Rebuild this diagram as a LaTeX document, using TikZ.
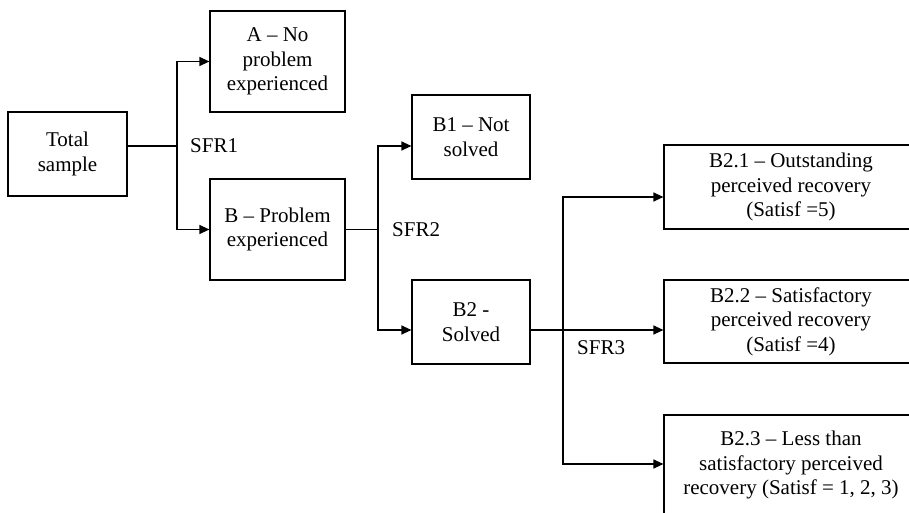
\documentclass[tikz,border=0pt]{standalone}
\usepackage{fontspec}
\setmainfont{Liberation Serif}
\usetikzlibrary{arrows.meta}
\tikzset{
	box/.style={draw, line width=1.2pt, align=center, inner sep=0pt, font=\fontsize{21}{24.5}\selectfont},
	arr/.style={line width=1.2pt, -{Triangle[length=10pt,width=9pt]}},
	lbl/.style={anchor=west, inner sep=0pt, font=\fontsize{21}{24.5}\selectfont}
}

\begin{document}
\begin{tikzpicture}[x=1pt, y=-1pt]
		%%%%% START %%%%%
		\useasboundingbox (0,0) rectangle (909,513);
		\clip (0,0) rectangle (909,513);
		
		\node[box, minimum width=119pt, minimum height=84pt] (tot) at (67.5,154) {Total\\sample};
		
		\node[box, minimum width=135pt, minimum height=101pt] (A) at (277.5,61.5) {A -- No\\problem\\experienced};
		\node[box, minimum width=135pt, minimum height=101pt] (B) at (277.5,229.5) {B -- Problem\\experienced};
		
		\node[box, minimum width=118pt, minimum height=84pt] (B1) at (471,137) {B1 -- Not\\solved};
		\node[box, minimum width=118pt, minimum height=84pt] (B2) at (471,322) {B2 -\\Solved};
		
		\node[box, minimum width=254pt, minimum height=84pt] (B21) at (791,187) {B2.1 -- Outstanding\\perceived recovery\\(Satisf =5)};
		\node[box, minimum width=254pt, minimum height=83pt] (B22) at (791,321.5) {B2.2 -- Satisfactory\\perceived recovery\\(Satisf =4)};
		\node[box, minimum width=254pt, minimum height=100pt] (B23) at (791,465) {B2.3 -- Less than\\satisfactory perceived\\recovery (Satisf = 1, 2, 3)};
		
		% first split
		\coordinate (j1) at (177,146);
		\draw[line width=1.2pt] (tot.east |- j1) -- (j1);
		\draw[arr] (j1) |- (A.west);
		\draw[arr] (j1) |- (B.west);
		\node[lbl] (sfr1) at (190,146) {SFR1};
		
		% second split
		\coordinate (j2) at (378,229.5);
		\draw[line width=1.2pt] (B.east) -- (j2);
		\draw[arr] (j2) |- (B1.west |- 0,146);
		\draw[arr] (j2) |- (B2.west |- 0,330);
		\node[lbl] (sfr2) at (392,230) {SFR2};
		
		% third split
		\coordinate (j3) at (563,330);
		\draw[line width=1.2pt] (B2.east |- j3) -- (j3);
		\draw[arr] (j3) |- (B21.west |- 0,197);
		\draw[arr] (j3) -- (B22.west |- j3);
		\draw[arr] (j3) |- (B23.west |- 0,464);
		\node[lbl] (sfr3) at (577,348) {SFR3};
		%%%%% END %%%%%
	\end{tikzpicture}
\end{document}
